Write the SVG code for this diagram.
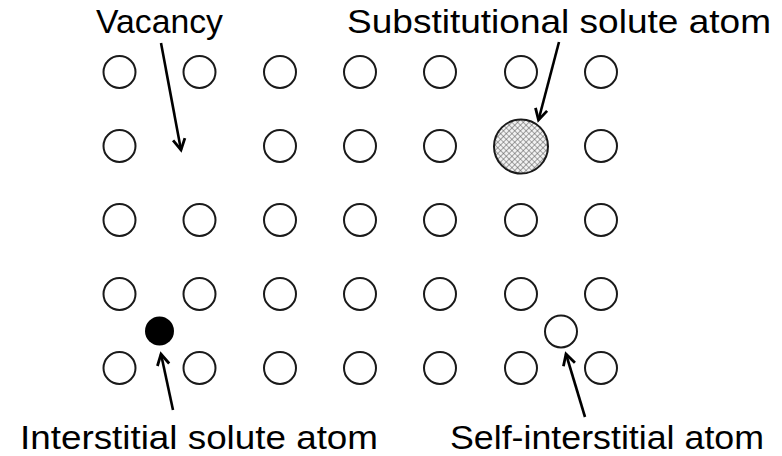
<svg xmlns="http://www.w3.org/2000/svg" width="782" height="456" viewBox="0 0 782 456">
  <style>
    .atom { fill: #ffffff; stroke: #1a1a1a; stroke-width: 2; }
    .label { font-family: "Liberation Sans", Arial, sans-serif; font-size: 34px; fill: #000000; }
    .arrow { stroke: #000000; stroke-width: 2.6; fill: none; marker-end: url(#head); }
  </style>
  <defs>
    <marker id="head" markerUnits="userSpaceOnUse" markerWidth="20" markerHeight="20" viewBox="-14 -10 16 20" refX="0" refY="0" orient="auto">
      <path d="M -11 -6 L 0 0 L -11 6" fill="none" stroke="#000000" stroke-width="2.8" stroke-linejoin="miter"/>
    </marker>
    <pattern id="hatch" width="4" height="4" patternUnits="userSpaceOnUse" patternTransform="rotate(45)">
      <rect width="4" height="4" fill="#f2f2f2"/>
      <path d="M 0 0 L 4 0 M 0 0 L 0 4" stroke="#5a5a5a" stroke-width="1.1"/>
    </pattern>
  </defs>
  <rect width="782" height="456" fill="#ffffff"/>

  <g id="lattice">
    <g id="row1">
      <circle class="atom" cx="119.5" cy="72" r="16"/>
      <circle class="atom" cx="199.5" cy="72" r="16"/>
      <circle class="atom" cx="280" cy="72" r="16"/>
      <circle class="atom" cx="360" cy="72" r="16"/>
      <circle class="atom" cx="440" cy="72" r="16"/>
      <circle class="atom" cx="521" cy="72" r="16"/>
      <circle class="atom" cx="601" cy="72" r="16"/>
    </g>
    <g id="row2">
      <circle class="atom" cx="119.5" cy="146" r="16"/>
      <circle class="atom" cx="280" cy="146" r="16"/>
      <circle class="atom" cx="360" cy="146" r="16"/>
      <circle class="atom" cx="440" cy="146" r="16"/>
      <circle class="atom" cx="601" cy="146" r="16"/>
    </g>
    <g id="row3">
      <circle class="atom" cx="119.5" cy="220" r="16"/>
      <circle class="atom" cx="199.5" cy="220" r="16"/>
      <circle class="atom" cx="280" cy="220" r="16"/>
      <circle class="atom" cx="360" cy="220" r="16"/>
      <circle class="atom" cx="440" cy="220" r="16"/>
      <circle class="atom" cx="521" cy="220" r="16"/>
      <circle class="atom" cx="601" cy="220" r="16"/>
    </g>
    <g id="row4">
      <circle class="atom" cx="119.5" cy="294" r="16"/>
      <circle class="atom" cx="199.5" cy="294" r="16"/>
      <circle class="atom" cx="280" cy="294" r="16"/>
      <circle class="atom" cx="360" cy="294" r="16"/>
      <circle class="atom" cx="440" cy="294" r="16"/>
      <circle class="atom" cx="521" cy="294" r="16"/>
      <circle class="atom" cx="601" cy="294" r="16"/>
    </g>
    <g id="row5">
      <circle class="atom" cx="119.5" cy="368" r="16"/>
      <circle class="atom" cx="199.5" cy="368" r="16"/>
      <circle class="atom" cx="280" cy="368" r="16"/>
      <circle class="atom" cx="360" cy="368" r="16"/>
      <circle class="atom" cx="440" cy="368" r="16"/>
      <circle class="atom" cx="521" cy="368" r="16"/>
      <circle class="atom" cx="601" cy="368" r="16"/>
    </g>
  </g>

  <g id="substitutional-atom">
    <circle cx="521" cy="146.5" r="27" fill="url(#hatch)" stroke="#1a1a1a" stroke-width="2"/>
  </g>
  <g id="interstitial-atom">
    <circle cx="159.5" cy="331" r="14.5" fill="#000000"/>
  </g>
  <g id="self-interstitial-atom">
    <circle class="atom" cx="561" cy="331.5" r="16"/>
  </g>

  <g id="connectors">
    <line class="arrow" x1="161" y1="43" x2="181" y2="150"/>
    <line class="arrow" x1="559" y1="42" x2="538.5" y2="120"/>
    <line class="arrow" x1="173" y1="410" x2="161" y2="354"/>
    <line class="arrow" x1="585" y1="417" x2="566" y2="354"/>
  </g>

  <g id="label-vacancy">
    <text class="label" x="96" y="32.5" textLength="127" lengthAdjust="spacingAndGlyphs">Vacancy</text>
  </g>
  <g id="label-substitutional">
    <text class="label" x="347" y="32.5" textLength="424" lengthAdjust="spacingAndGlyphs">Substitutional solute atom</text>
  </g>
  <g id="label-interstitial">
    <text class="label" x="20" y="448.5" textLength="358" lengthAdjust="spacingAndGlyphs">Interstitial solute atom</text>
  </g>
  <g id="label-self-interstitial">
    <text class="label" x="450" y="448.5" textLength="314" lengthAdjust="spacingAndGlyphs">Self-interstitial atom</text>
  </g>
</svg>
